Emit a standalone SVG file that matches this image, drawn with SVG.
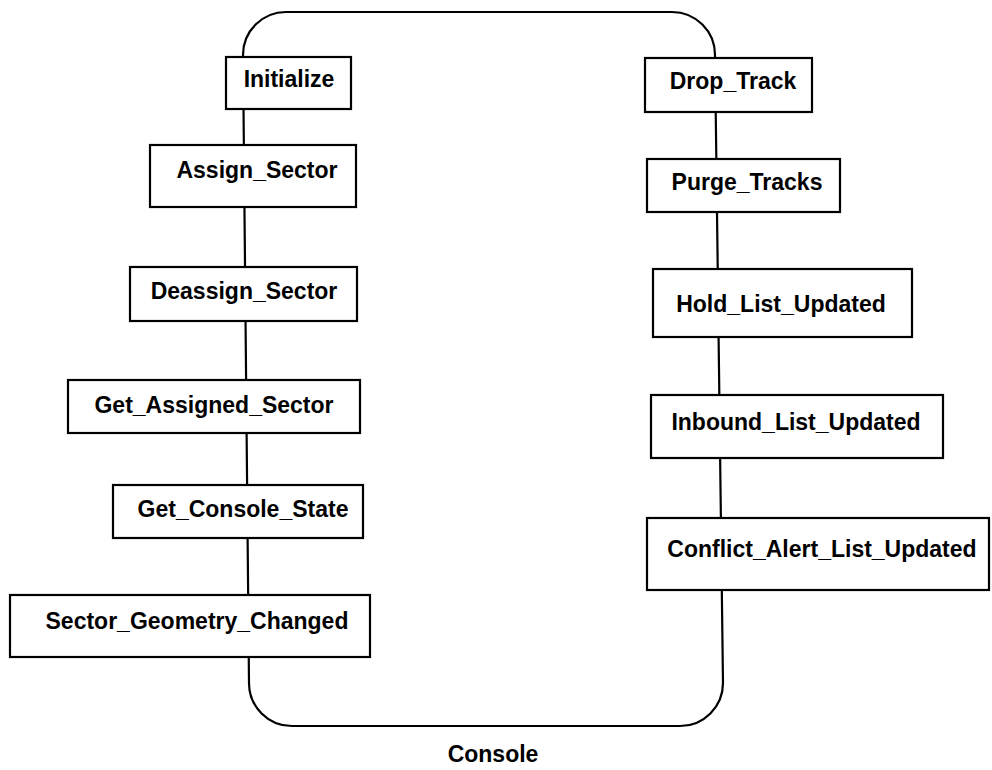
<svg xmlns="http://www.w3.org/2000/svg" width="992" height="770" viewBox="0 0 992 770">
  <style>
    .outline { fill: none; stroke: #000; stroke-width: 2.2; }
    .op rect { fill: #fff; stroke: #000; stroke-width: 2.2; }
    .op text, .title { font-family: "Liberation Sans", Arial, Helvetica, sans-serif; font-weight: bold; font-size: 23px; fill: #000; text-anchor: middle; }
  </style>
  <rect width="992" height="770" fill="#fff"/>

  <!-- Console object outline; its sides link the operation boxes -->
  <g id="connectors">
    <path class="outline" d="M 288 12 L 672 12 A 43 43 0 0 1 715 55 L 723 683 A 43 43 0 0 1 680 726 L 292 726 A 43 43 0 0 1 249 683 L 243 55 A 43 43 0 0 1 286 12 Z"/>
  </g>

  <!-- Operations on the left side -->
  <g id="initialize" class="op">
    <rect x="226" y="57" width="125" height="52"/>
    <text x="289" y="87">Initialize</text>
  </g>
  <g id="assign_sector" class="op">
    <rect x="150" y="145" width="206" height="62"/>
    <text x="257" y="178">Assign_Sector</text>
  </g>
  <g id="deassign_sector" class="op">
    <rect x="130" y="267" width="227" height="54"/>
    <text x="244" y="299">Deassign_Sector</text>
  </g>
  <g id="get_assigned_sector" class="op">
    <rect x="68" y="380" width="292" height="53"/>
    <text x="214" y="413">Get_Assigned_Sector</text>
  </g>
  <g id="get_console_state" class="op">
    <rect x="113" y="485" width="250" height="53"/>
    <text x="243" y="517">Get_Console_State</text>
  </g>
  <g id="sector_geometry_changed" class="op">
    <rect x="10" y="595" width="360" height="62"/>
    <text x="197" y="629">Sector_Geometry_Changed</text>
  </g>

  <!-- Operations on the right side -->
  <g id="drop_track" class="op">
    <rect x="645" y="58" width="167" height="54"/>
    <text x="733" y="89">Drop_Track</text>
  </g>
  <g id="purge_tracks" class="op">
    <rect x="647" y="159" width="193" height="53"/>
    <text x="747" y="190">Purge_Tracks</text>
  </g>
  <g id="hold_list_updated" class="op">
    <rect x="653" y="269" width="259" height="68"/>
    <text x="781" y="312">Hold_List_Updated</text>
  </g>
  <g id="inbound_list_updated" class="op">
    <rect x="651" y="395" width="292" height="63"/>
    <text x="796" y="430">Inbound_List_Updated</text>
  </g>
  <g id="conflict_alert_list_updated" class="op">
    <rect x="647" y="518" width="342" height="72"/>
    <text x="822" y="557">Conflict_Alert_List_Updated</text>
  </g>

  <!-- Object name -->
  <g id="console_label">
    <text class="title" x="493" y="762">Console</text>
  </g>
</svg>
